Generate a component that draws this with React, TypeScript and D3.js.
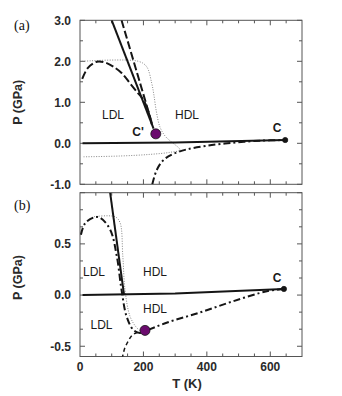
import React from "react";
import * as d3 from "d3";

// ---------- data ----------
const T_TICK_LABELS = [0, 200, 400, 600];
const P_TICK_LABELS_A = [3.0, 2.0, 1.0, 0.0, -1.0];
const P_TICK_LABELS_B = [0.5, 0.0, -0.5];

// panel (a)  [T (K), P (GPa)]
const aLiquidGas: [number, number][] = [[8, 0], [300, 0.02], [647, 0.08]];
const aSteepSolid: [number, number][] = [[100, 3.0], [232, 0.36]];
const aSteepDashed: [number, number][] = [[131, 3.0], [229, 0.43]];
const aSpinodalLDL: [number, number][] = [
  [7, 1.57], [25, 1.84], [53, 1.99], [79, 1.97], [105, 1.87], [132, 1.71],
  [158, 1.46], [180, 1.25], [200, 1.06], [214, 0.81], [227, 0.45],
];
const aTMD: [number, number][] = [
  [7, 2.0], [184, 2.0], [210, 1.87], [226, 1.47], [233, 1.18], [240, 0.81],
  [252, 0.4], [268, 0.18], [284, 0.06], [315, -0.16], [284, -0.22],
  [221, -0.27], [126, -0.31], [7, -0.33],
];
const aSpinodalHDL: [number, number][] = [
  [228, -1.0], [242, -0.65], [263, -0.41], [294, -0.26], [336, -0.15],
  [400, -0.06], [483, 0.015], [568, 0.063], [647, 0.08],
];
const aCritical: [number, number] = [647, 0.08];
const aSecondCritical: [number, number] = [239, 0.23];

// panel (b)
const bLiquidGas: [number, number][] = [[8, 0], [300, 0.015], [643, 0.06]];
const bSteepSolid: [number, number][] = [[95, 1.0], [139, 0.0]];
const bSpinodal: [number, number][] = [
  [3, 0.59], [16, 0.7], [45, 0.76], [63, 0.756], [95, 0.64], [116, 0.38],
  [131, 0.05], [147, -0.21], [168, -0.34], [189, -0.37], [207, -0.35],
  [273, -0.27], [378, -0.17], [483, -0.06], [589, 0.037], [643, 0.06],
];
const bShortDashed: [number, number][] = [
  [133, -0.62], [141, -0.52], [152, -0.45], [165, -0.39], [180, -0.365], [200, -0.35],
];
const bTMD: [number, number][] = [
  [44, 0.766], [110, 0.766], [126, 0.71], [135, 0.38], [142, 0.05],
  [158, -0.21], [179, -0.32], [195, -0.36],
];
const bCritical: [number, number] = [643, 0.06];
const bSecondCritical: [number, number] = [205, -0.345];

// ---------- layout ----------
const W = 342;
const H = 396;
const x = d3.scaleLinear().domain([0, 700]).range([80, 302]);
const yA = d3.scaleLinear().domain([-1, 3]).range([184.3, 20.3]);
const yB = d3.scaleLinear().domain([-0.6, 1.0]).range([356.5, 192.7]);

const INK = "#151515";
const FRAME = "#555";
const SANS = "'Liberation Sans', Arial, Helvetica, sans-serif";
const SERIF = "'Liberation Serif', 'Times New Roman', serif";

function makeLine(y: d3.ScaleLinear<number, number>, smooth = true) {
  const l = d3.line<[number, number]>().x((d) => x(d[0])).y((d) => y(d[1]));
  return smooth ? l.curve(d3.curveCatmullRom.alpha(0.5)) : l;
}

type Tick = { v: number; major: boolean };

function Frame({ y, yTicks, id }: { y: d3.ScaleLinear<number, number>; yTicks: Tick[]; id: string }) {
  const [x0, x1] = x.range();
  const [yb, yt] = y.range();
  const xTicks: Tick[] = d3.range(50, 700, 50).map((v) => ({ v, major: v % 200 === 0 }));
  return (
    <g>
      <rect x={x0} y={yt} width={x1 - x0} height={yb - yt} fill="none" stroke={FRAME} strokeWidth={1} />
      {xTicks.map((t) => (
        <g key={id + "x" + t.v} stroke={FRAME} strokeWidth={1}>
          <line x1={x(t.v)} x2={x(t.v)} y1={yb} y2={yb - (t.major ? 5 : 3)} />
          <line x1={x(t.v)} x2={x(t.v)} y1={yt} y2={yt + (t.major ? 5 : 3)} />
        </g>
      ))}
      {yTicks.map((t, i) => (
        <g key={id + "y" + i} stroke={FRAME} strokeWidth={1}>
          <line x1={x0} x2={x0 + (t.major ? 5 : 3)} y1={y(t.v)} y2={y(t.v)} />
          <line x1={x1} x2={x1 - (t.major ? 5 : 3)} y1={y(t.v)} y2={y(t.v)} />
        </g>
      ))}
    </g>
  );
}

function Dot({ p, y, r, fill }: { p: [number, number]; y: d3.ScaleLinear<number, number>; r: number; fill: string }) {
  return <circle cx={x(p[0])} cy={y(p[1])} r={r} fill={fill} stroke={INK} strokeWidth={0.8} />;
}

export default function App() {
  const la = makeLine(yA);
  const laStraight = makeLine(yA, false);
  const lb = makeLine(yB);
  const lbStraight = makeLine(yB, false);

  const yTicksA: Tick[] = d3.range(-1, 3.01, 0.5).map((v) => ({ v, major: Math.abs(v - Math.round(v)) < 1e-6 }));
  const yTicksB: Tick[] = d3.range(-3, 7, 1).map((k) => ({ v: k / 6, major: k % 3 === 0 }));

  const dashLong = "8,3";
  const dashDot = "7,3,2,3";
  const dotted = "1,1.5";

  const tickFont = { fontFamily: SANS, fontSize: 12, fontWeight: 700, fill: "#2a2a2a" } as const;
  const regionFont = { fontFamily: SANS, fontSize: 12, fill: "#1a1a1a" } as const;

  return (
    <svg width={W} height={H} style={{ position: "absolute", left: 0, top: 0, background: "#fff" }}>
      <defs>
        <clipPath id="clipA">
          <rect x={80} y={20.3} width={222} height={164} />
        </clipPath>
        <clipPath id="clipB">
          <rect x={80} y={192.7} width={222} height={163.8} />
        </clipPath>
      </defs>

      {/* ---------- panel (a) ---------- */}
      <Frame y={yA} yTicks={yTicksA} id="a" />
      <g clipPath="url(#clipA)" fill="none">
        <path d={la(aTMD) || ""} stroke="#777" strokeWidth={0.9} strokeDasharray={dotted} />
        <path d={laStraight(aLiquidGas) || ""} stroke={INK} strokeWidth={2} />
        <path d={laStraight(aSteepSolid) || ""} stroke={INK} strokeWidth={2} />
        <path d={laStraight(aSteepDashed) || ""} stroke={INK} strokeWidth={2} strokeDasharray={dashLong} />
        <path d={la(aSpinodalLDL) || ""} stroke={INK} strokeWidth={2} strokeDasharray={dashLong} />
        <path d={la(aSpinodalHDL) || ""} stroke={INK} strokeWidth={2} strokeDasharray={dashDot} />
      </g>
      <Dot p={aCritical} y={yA} r={2.6} fill={INK} />
      <Dot p={aSecondCritical} y={yA} r={5} fill="#6b0b6e" />
      <text x={113} y={115} textAnchor="middle" dy="0.35em" {...regionFont}>LDL</text>
      <text x={187} y={115} textAnchor="middle" dy="0.35em" {...regionFont}>HDL</text>
      <text x={138} y={131.5} textAnchor="middle" dy="0.35em" fontFamily={SANS} fontSize={12} fontWeight={700} fill="#1a1a1a">C'</text>
      <text x={277} y={127.5} textAnchor="middle" dy="0.35em" fontFamily={SANS} fontSize={12} fontWeight={700} fill="#1a1a1a">C</text>
      {P_TICK_LABELS_A.map((v) => (
        <text key={"la" + v} x={71} y={yA(v)} textAnchor="end" dy="0.36em" {...tickFont}>
          {v.toFixed(1)}
        </text>
      ))}
      <text x={14} y={30} fontFamily={SERIF} fontSize={14} fill="#111">(a)</text>
      <text
        transform={`translate(22,${(yA(3) + yA(-1)) / 2}) rotate(-90)`}
        textAnchor="middle"
        fontFamily={SANS}
        fontSize={12.5}
        fontWeight={700}
        fill="#2a2a2a"
      >
        P (GPa)
      </text>

      {/* ---------- panel (b) ---------- */}
      <Frame y={yB} yTicks={yTicksB} id="b" />
      <g clipPath="url(#clipB)" fill="none">
        <path d={lb(bTMD) || ""} stroke="#777" strokeWidth={0.9} strokeDasharray={dotted} />
        <path d={lbStraight(bLiquidGas) || ""} stroke={INK} strokeWidth={2} />
        <path d={lbStraight(bSteepSolid) || ""} stroke={INK} strokeWidth={2} />
        <path d={lb(bSpinodal) || ""} stroke={INK} strokeWidth={2} strokeDasharray={dashDot} />
        <path d={lb(bShortDashed) || ""} stroke={INK} strokeWidth={1.5} strokeDasharray="4,3" />
      </g>
      <Dot p={bCritical} y={yB} r={2.6} fill={INK} />
      <Dot p={bSecondCritical} y={yB} r={5} fill="#6b0b6e" />
      <text x={94} y={272} textAnchor="middle" dy="0.35em" {...regionFont}>LDL</text>
      <text x={155} y={272} textAnchor="middle" dy="0.35em" {...regionFont}>HDL</text>
      <text x={155} y={308.5} textAnchor="middle" dy="0.35em" {...regionFont}>HDL</text>
      <text x={101.5} y={325} textAnchor="middle" dy="0.35em" {...regionFont}>LDL</text>
      <text x={277} y={277.5} textAnchor="middle" dy="0.35em" fontFamily={SANS} fontSize={12} fontWeight={700} fill="#1a1a1a">C</text>
      {P_TICK_LABELS_B.map((v) => (
        <text key={"lb" + v} x={71} y={yB(v)} textAnchor="end" dy="0.36em" {...tickFont}>
          {v.toFixed(1)}
        </text>
      ))}
      {T_TICK_LABELS.map((v) => (
        <text key={"t" + v} x={x(v)} y={367} textAnchor="middle" dy="0.36em" {...tickFont}>
          {v}
        </text>
      ))}
      <text x={14} y={210} fontFamily={SERIF} fontSize={14} fill="#111">(b)</text>
      <text
        transform={`translate(22,${(yB(1) + yB(-0.6)) / 2 + 3}) rotate(-90)`}
        textAnchor="middle"
        fontFamily={SANS}
        fontSize={12.5}
        fontWeight={700}
        fill="#2a2a2a"
      >
        P (GPa)
      </text>
      <text x={187} y={383} textAnchor="middle" dy="0.35em" fontFamily={SANS} fontSize={13} fontWeight={700} fill="#2a2a2a">
        T (K)
      </text>
    </svg>
  );
}
